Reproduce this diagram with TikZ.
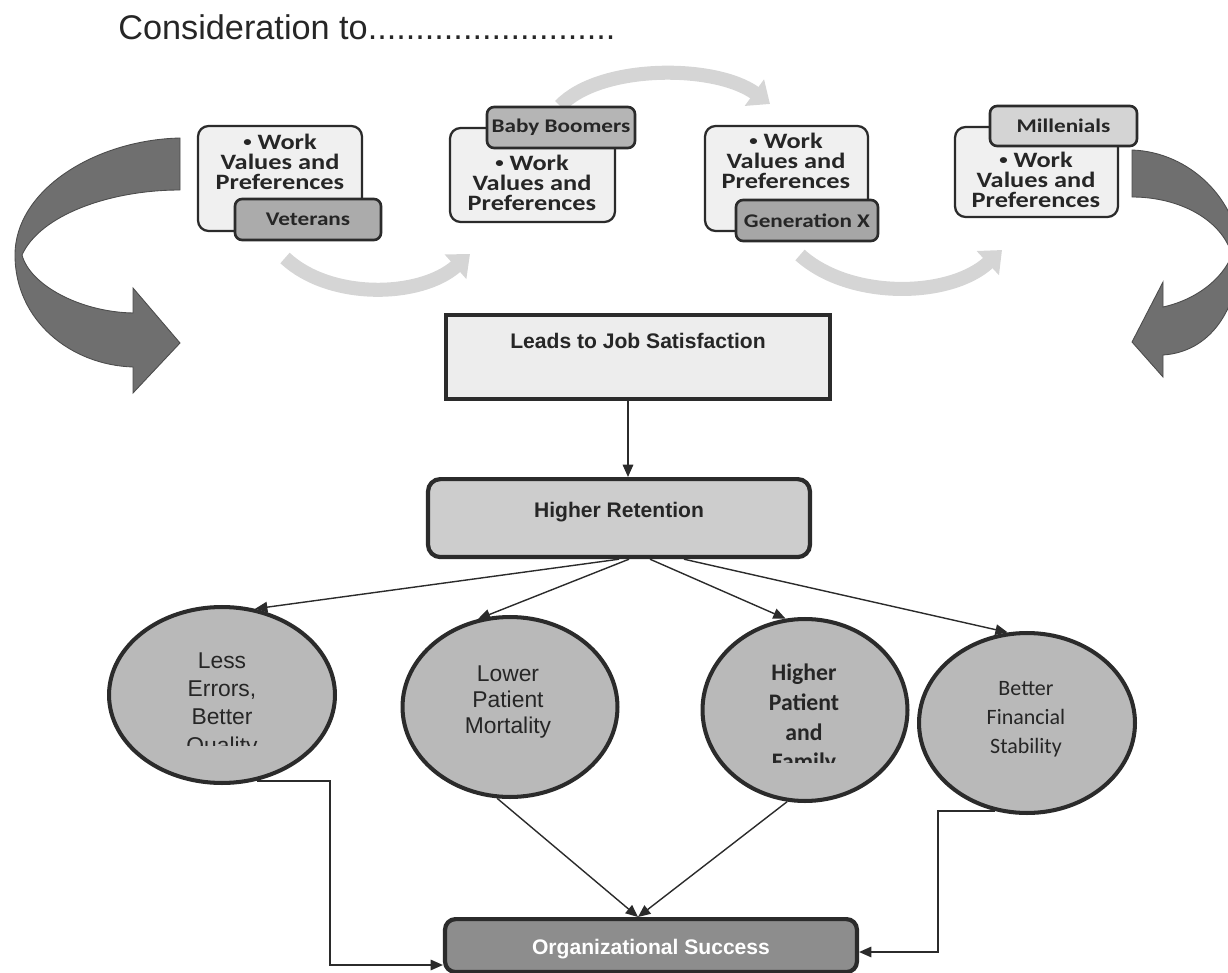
\documentclass[tikz,border=0pt]{standalone}
\usepackage{fontspec}
\setmainfont{Liberation Sans}
\newfontfamily\calib{Carlito}
\newfontfamily\calibwide[FakeStretch=1.2]{Carlito}
\usetikzlibrary{arrows.meta,calc,positioning,shapes.geometric}

\definecolor{edgedark}{HTML}{2B2B2B}
\definecolor{boxlight}{HTML}{F0F0F0}
\definecolor{arcgray}{HTML}{D5D5D5}
\definecolor{bigarrow}{HTML}{6F6F6F}
\definecolor{leadfill}{HTML}{EDEDED}
\definecolor{hrfill}{HTML}{CDCDCD}
\definecolor{ellfill}{HTML}{B9B9B9}
\definecolor{orgfill}{HTML}{8D8D8D}
\definecolor{textdark}{HTML}{262626}

\def\wvp{{\raisebox{1.5pt}{\fontsize{8}{8}\selectfont\textbullet}}\ Work\\Values and\\Preferences}

\tikzset{
  genbox/.style={draw=edgedark, line width=1.3pt, rounded corners=6pt, fill=boxlight, inner sep=0pt},
  genlab/.style={draw=edgedark, line width=1.5pt, rounded corners=4pt, inner sep=0pt,
    font=\calibwide\bfseries\fontsize{11}{13}\selectfont, text=textdark},
  gentext/.style={align=center, inner sep=0pt, font=\calibwide\bfseries\fontsize{12.5}{11.4}\selectfont, text=textdark},
  flowarc/.style={draw=arcgray, line width=8pt, -{Triangle[length=11pt,width=18pt]}},
  bigarc/.style={fill=bigarrow, draw=black!70, line width=0.5pt},
  flowbox/.style={draw=edgedark, line width=2.4pt, inner sep=0pt, font=\bfseries\fontsize{12}{14}\selectfont, text=textdark},
  outcome/.style={ellipse, draw=edgedark, line width=2.3pt, fill=ellfill, inner sep=0pt},
  outtext/.style={align=center, inner sep=0pt, anchor=north, text=textdark},
  conn/.style={draw=edgedark, line width=0.8pt, -{Triangle[length=7pt,width=6pt]}}
}

\begin{document}
\begin{tikzpicture}[x=0.02cm, y=-0.02cm]
  \useasboundingbox (0,0) rectangle (1228,973);

  % heading
  \node[anchor=base west, inner sep=0pt, font=\fontsize{19.5}{22}\selectfont, text=black!85] (title)
    at (118,40) {Consideration to..........................};

  % light arrows between the generations
  \draw[flowarc] (285,258) .. controls (330,300) and (420,298) .. (470,254);
  \draw[flowarc] (560,106) .. controls (600,64) and (715,64) .. (770,104);
  \draw[flowarc] (800,255) .. controls (850,300) and (950,298) .. (1002,250);

  % big turning arrows
  \draw[bigarc] (180,138) .. controls (95,140) and (15,190) .. (15,255)
    .. controls (15,320) and (70,365) .. (133,367) -- (133,393) -- (180,343) -- (133,288) -- (133,313)
    .. controls (80,312) and (30,285) .. (22,255) .. controls (40,215) and (110,190) .. (180,190) -- cycle;
  \begin{scope}
    \clip (0,0) rectangle (1228,973);
    \draw[bigarc] (1132,150) .. controls (1190,152) and (1238,200) .. (1240,255)
      .. controls (1238,310) and (1210,352) .. (1163,355) -- (1163,377) -- (1132,342) -- (1163,282) -- (1163,307)
      .. controls (1195,300) and (1222,280) .. (1232,255) .. controls (1222,220) and (1180,197) .. (1132,197) -- cycle;
  \end{scope}

  % generations
  \node[genbox, minimum width=3.28cm, minimum height=2.1cm] (vbox) at (280,178.5) {};
  \node[gentext] (vtxt) at (280,162) {\wvp};
  \node[genlab, fill=black!33, minimum width=2.92cm, minimum height=0.82cm] (vlab) at (308,219.5) {Veterans};

  \node[genbox, minimum width=3.3cm, minimum height=1.88cm] (bbox) at (532.5,175) {};
  \node[gentext] (btxt) at (532,183) {\wvp};
  \node[genlab, fill=black!29, minimum width=2.96cm, minimum height=0.82cm] (blab) at (561,127.5) {Baby Boomers};

  \node[genbox, minimum width=3.26cm, minimum height=2.1cm] (gbox) at (786.5,178.5) {};
  \node[gentext] (gtxt) at (786,161) {\wvp};
  \node[genlab, fill=black!35, minimum width=2.84cm, minimum height=0.82cm] (glab) at (807,220.5) {Generation X};

  \node[genbox, minimum width=3.26cm, minimum height=1.8cm] (mbox) at (1036.5,172) {};
  \node[gentext] (mtxt) at (1036,180) {\wvp};
  \node[genlab, fill=black!17, minimum width=2.94cm, minimum height=0.8cm] (mlab) at (1063.5,126) {Millenials};

  % main flow
  \node[flowbox, fill=leadfill, anchor=north, minimum width=7.68cm, text height=0.66cm, text depth=1.02cm]
    (lead) at (638,313) {Leads to Job Satisfaction};
  \node[flowbox, fill=hrfill, rounded corners=7pt, anchor=north, minimum width=7.64cm, text height=0.76cm, text depth=0.8cm]
    (hr) at (619,477) {Higher Retention};
  \coordinate (leadout) at ([xshift=-0.2cm]lead.south);
  \draw[conn] (leadout) -- (leadout |- hr.north);

  \node[outcome, minimum width=4.52cm, minimum height=3.52cm] (e1) at (222,695) {};
  \node[outcome, minimum width=4.3cm, minimum height=3.6cm] (e2) at (510,707) {};
  \node[outcome, minimum width=4.1cm, minimum height=3.64cm] (e3) at (805,710) {};
  \node[outcome, minimum width=4.32cm, minimum height=3.6cm] (e4) at (1027,723) {};

  \begin{scope}
    \clip (100,600) rectangle (340,745);
    \node[outtext, font=\fontsize{13}{16.2}\selectfont] (t1) at (222,652) {Less\\Errors,\\Better\\Quality};
  \end{scope}
  \node[outtext, font=\fontsize{13}{15}\selectfont] (t2) at (508,665) {Lower\\Patient\\Mortality};
  \begin{scope}
    \clip (700,600) rectangle (910,762);
    \node[outtext, font=\calib\bfseries\fontsize{13.5}{16.8}\selectfont] (t3) at (804,664) {Higher\\Patient\\and\\Family};
  \end{scope}
  \node[outtext, font=\calib\fontsize{12.5}{16.4}\selectfont] (t4) at (1026,681) {Better\\Financial\\Stability};

  \draw[conn] (hr.south) -- (e1.69);
  \draw[conn] ([xshift=0.2cm]hr.south) -- (e2.110);
  \draw[conn] ([xshift=0.62cm]hr.south) -- (e3.102);
  \draw[conn] ([xshift=1.3cm]hr.south) -- (e4.102);

  \node[flowbox, fill=orgfill, rounded corners=6pt, anchor=north, minimum width=8.24cm, text height=0.7cm, text depth=0.36cm,
    text=white] (org) at (651,917) {Organizational Success};

  \coordinate (orgin) at ($(org.north)+(-13,0)$);
  \coordinate (lbend) at (330,965);
  \coordinate (rbend) at (938,952);
  \draw[conn] (e1.-68) -| (lbend) -- (lbend -| org.west);
  \draw[conn] (e2.-98) -- (orgin);
  \draw[conn] (e3.-101) -- (orgin);
  \draw[conn] (e4.-110) -| (rbend) -- (rbend -| org.east);
\end{tikzpicture}
\end{document}
